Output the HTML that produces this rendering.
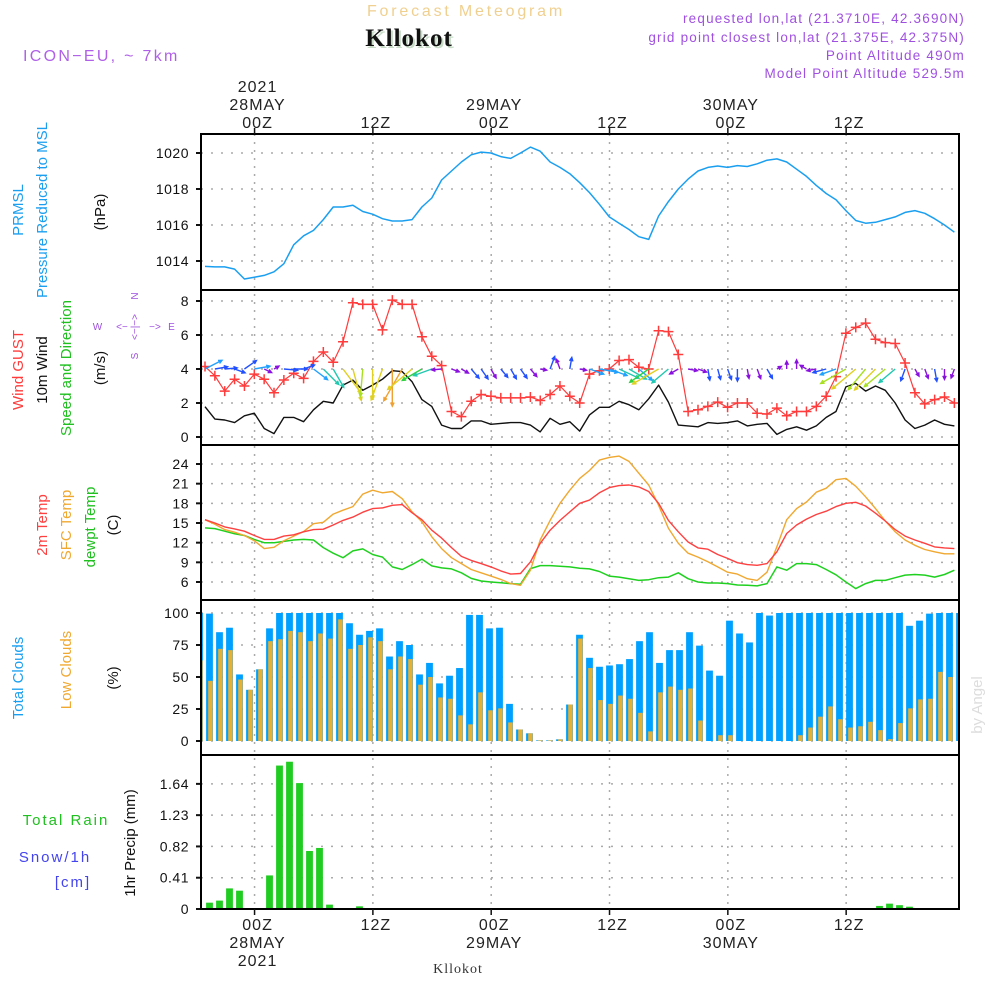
<!DOCTYPE html>
<html><head><meta charset="utf-8"><title>Forecast Meteogram Kllokot</title>
<style>
html,body{margin:0;padding:0;background:#fff;}
svg{display:block;font-family:"Liberation Sans",sans-serif;}
</style></head>
<body>
<svg id="chart" width="1000" height="1000" viewBox="0 0 1000 1000" xmlns="http://www.w3.org/2000/svg">
<defs>
<clipPath id="clipAll"><rect x="201" y="134" width="758" height="775"/></clipPath>
</defs>
<rect x="0" y="0" width="1000" height="1000" fill="#fff"/>
<text x="466" y="16" text-anchor="middle" font-size="16" fill="#f0d090" letter-spacing="2.8">Forecast Meteogram</text>
<text x="411" y="48" text-anchor="middle" font-family="Liberation Serif, serif" font-weight="bold" font-size="25" fill="#c8dcc8" letter-spacing="1">Kllokot</text>
<text x="409" y="46" text-anchor="middle" font-family="Liberation Serif, serif" font-weight="bold" font-size="25" fill="#111" letter-spacing="1">Kllokot</text>
<text x="23" y="61" font-size="16" fill="#b060e8" letter-spacing="2.3">ICON−EU, ~ 7km</text>
<text x="965" y="23" text-anchor="end" font-size="13.5" fill="#a050e0" letter-spacing="1.2">requested lon,lat (21.3710E, 42.3690N)</text>
<text x="965" y="42" text-anchor="end" font-size="13.5" fill="#a050e0" letter-spacing="1.2">grid point closest lon,lat (21.375E, 42.375N)</text>
<text x="965" y="60" text-anchor="end" font-size="13.5" fill="#a050e0" letter-spacing="1.2">Point Altitude 490m</text>
<text x="965" y="78" text-anchor="end" font-size="13.5" fill="#a050e0" letter-spacing="1.2">Model Point Altitude 529.5m</text>
<g id="grid" clip-path="url(#clipAll)"></g>
<g id="marks" clip-path="url(#clipAll)"></g>
<g id="axes"></g>
<g id="labels"></g>
</svg>
<script>
const hours = Array.from({length:77},(_, i)=>i);
const pressure = [1013.7,1013.67,1013.67,1013.55,1013.0,1013.1,1013.2,1013.4,1013.85,1014.9,1015.4,1015.7,1016.3,1017.0,1017.0,1017.1,1016.75,1016.6,1016.35,1016.22,1016.22,1016.3,1017.0,1017.5,1018.5,1019.0,1019.5,1019.9,1020.05,1020.0,1019.8,1019.7,1020.0,1020.33,1020.1,1019.5,1019.2,1018.85,1018.35,1017.8,1017.15,1016.45,1016.1,1015.75,1015.35,1015.2,1016.5,1017.3,1018.0,1018.55,1019.0,1019.2,1019.28,1019.2,1019.3,1019.25,1019.4,1019.6,1019.67,1019.5,1019.1,1018.7,1018.2,1017.75,1017.4,1016.8,1016.25,1016.1,1016.15,1016.3,1016.45,1016.7,1016.8,1016.65,1016.35,1016.0,1015.6];
const gust = [4.15,3.6,2.7,3.4,3.0,3.7,3.4,2.6,3.35,3.75,3.45,4.45,5.0,4.4,5.6,7.9,7.8,7.8,6.3,8.05,7.8,7.8,5.9,4.75,4.2,1.5,1.2,2.1,2.5,2.4,2.3,2.3,2.3,2.35,2.15,2.5,3.0,2.4,2.0,3.7,3.9,4.0,4.5,4.55,4.1,4.0,6.25,6.2,4.85,1.5,1.6,1.8,2.05,1.75,2.0,2.0,1.4,1.35,1.7,1.25,1.5,1.5,1.8,2.4,3.55,6.1,6.45,6.7,5.75,5.55,5.5,4.35,2.6,1.95,2.2,2.35,2.0];
const wind = [1.78,1.05,1.0,0.85,1.25,1.4,0.5,0.2,1.15,1.15,0.9,1.6,2.1,2.0,3.05,3.35,2.75,3.05,3.4,3.9,3.85,3.25,2.2,1.8,0.7,0.5,0.5,0.95,0.95,0.75,0.8,0.85,0.85,0.7,0.3,1.1,0.75,0.9,0.35,1.3,1.75,1.75,2.1,1.9,1.6,2.25,3.05,2.05,0.7,0.65,0.6,0.85,0.8,0.85,0.95,0.65,0.75,0.8,0.15,0.45,0.6,0.4,0.65,1.15,1.5,2.95,3.15,2.7,3.0,2.75,2.0,1.0,0.5,0.7,1.0,0.75,0.65];
const windTo = [63,80,85,110,55,80,115,60,95,90,70,127,135,150,143,165,185,180,200,180,210,230,240,250,265,110,120,140,145,150,140,150,145,140,100,20,340,10,100,110,100,110,115,120,130,235,240,230,240,100,110,170,165,160,180,170,160,150,60,0,0,300,260,255,250,240,230,220,225,230,230,200,150,160,170,180,200];
const temp2m = [15.5,15.0,14.4,14.1,13.75,13.1,12.5,12.5,13.0,13.2,13.65,14.0,14.05,14.7,15.4,15.9,16.65,17.2,17.3,17.7,17.8,16.55,15.5,13.9,12.7,11.25,9.9,9.3,8.8,8.3,7.7,7.2,7.3,9.06,11.9,13.9,15.4,16.7,18.0,18.5,19.6,20.4,20.7,20.8,20.5,19.8,18.0,15.4,13.65,12.1,11.2,11.0,10.2,9.6,8.95,8.65,8.55,8.8,10.6,13.4,14.7,15.6,16.3,16.8,17.5,18.0,18.15,17.6,16.5,15.3,14.0,13.0,12.4,11.9,11.35,11.2,11.1];
const tempSfc = [15.5,14.8,14.0,13.6,13.1,12.3,11.1,11.3,12.3,13.0,13.7,14.9,15.1,16.35,16.95,17.5,19.4,20.0,19.6,19.8,18.7,16.7,15.2,12.9,11.1,9.7,8.8,7.9,7.4,6.9,6.4,5.75,5.5,7.8,12.4,15.4,18.0,20.0,21.8,23.0,24.6,25.0,25.2,24.4,22.6,20.8,17.7,14.2,11.9,10.4,9.8,9.1,8.3,7.5,7.2,6.5,6.25,7.5,11.4,15.5,17.2,18.2,19.7,20.3,21.6,21.8,20.6,19.0,17.2,15.3,13.65,12.4,11.6,10.95,10.6,10.3,10.3];
const dewpt = [14.25,14.15,13.75,13.35,13.1,12.5,12.0,12.0,12.2,12.4,12.5,12.4,11.25,10.4,9.7,10.75,11.05,10.2,9.8,8.3,7.9,8.65,9.5,8.45,8.15,8.0,7.4,6.55,6.15,6.0,5.9,5.75,5.65,8.05,8.5,8.5,8.4,8.3,8.1,8.0,7.6,6.9,6.75,6.5,6.25,6.35,6.65,6.75,7.4,6.5,6.0,5.85,5.85,5.75,5.55,5.5,5.4,5.75,8.3,7.8,8.8,8.8,8.65,7.9,7.1,6.0,5.0,5.75,6.25,6.25,6.65,7.05,7.15,7.05,6.75,7.15,7.8];
const totalClouds = [100,99.5,85,88.5,52,40,56,88,100,100,100,100,100,100,100,92,83,86,88,66,78,75,52,61,45,51,57,98.5,98.5,88,88.5,29,9,6,0.5,0.5,1.3,28.5,83,65,58,59,60,64,78,85,61,71,71,85,74.5,55,51,94,84,77,100,98,100,100,100,100,100,100,100,100,100,100,100,100,100,90,94,99.5,100,100,100];
const lowClouds = [63,47,72,71,48,40,56,78,79.5,86,85,78,84,80,95,72,75,81,78,56,66,64,44,50,34,33,20,13,38,24,25.5,14.5,9,6,0.5,0.5,1.3,28.5,80,57,32,29,35.5,33,22,7.5,38,42.5,40,41,16,0,4.5,4.5,0,0,0,0,0,0,4.5,10.5,19,27,17,10.5,11.5,15,8.5,1.5,14,25.5,32.5,33,54,50,69];
const precip = [0,0.083,0.11,0.27,0.24,0,0,0.44,1.88,1.93,1.65,0.76,0.8,0.057,0,0,0.035,0,0,0,0,0,0,0,0,0,0,0,0,0,0,0,0,0,0,0,0,0,0,0,0,0,0,0,0,0,0,0,0,0,0,0,0,0,0,0,0,0,0,0,0,0,0,0,0,0,0,0,0.04,0.07,0.05,0.03,0,0,0,0.01,0];
const pTicks = [1014,1016,1018,1020];
const wTicks = [0,2,4,6,8];
const tTicks = [6,9,12,15,18,21,24];
const cTicks = [0,25,50,75,100];
const rTicks = ["0","0.41","0.82","1.23","1.64"];
const timeTicks = [6,18,30,42,54,66];
const timeTop = ["00Z","12Z","00Z","12Z","00Z","12Z"];
const dateLabels = ["28MAY","","29MAY","","30MAY",""];

const xl = i => 205 + 9.86*i;
const xb = i => 199.5 + 10*i;
const xt = h => 195.4 + 9.86*h;
const yP = p => 153 + (1020-p)*18;
const yW = v => 437 - v*17;
const yT = t => 582 - (t-6)*6.556;
const yC = c => 741 - c*1.28;
const yR = r => 909 - r*76.3;

const NS="http://www.w3.org/2000/svg";
function mk(tag, parent, attrs){const e=document.createElementNS(NS,tag);for(const k in attrs)e.setAttribute(k,attrs[k]);parent.appendChild(e);return e;}
const grid=document.getElementById('grid'), marks=document.getElementById('marks'), axes=document.getElementById('axes'), labels=document.getElementById('labels');
const panels=[{y0:134,y1:290},{y0:290,y1:445},{y0:445,y1:600},{y0:600,y1:755},{y0:755,y1:909}];

timeTicks.forEach(h=>{
  const g=mk('line',grid,{x1:xt(h),x2:xt(h),y1:134,y2:909,stroke:'#aaa','stroke-width':1.5,'stroke-dasharray':'2,6'});
  
  
});
function hgrid(yv,name){
  const g=mk('line',grid,{x1:201,x2:959,y1:yv,y2:yv,stroke:'#aaa','stroke-width':1.5,'stroke-dasharray':'2,8'});
  
  
}
function ytick(yv,label,name){
  const t=mk('line',axes,{x1:196,x2:201,y1:yv,y2:yv,stroke:'#111','stroke-width':2});
  
  
  const tx=mk('text',labels,{x:189,y:yv+5,'text-anchor':'end','font-size':14,fill:'#111','letter-spacing':'0.5'});
  tx.textContent=label;
  
  
}
pTicks.forEach(v=>{hgrid(yP(v),'pressure-gridline');ytick(yP(v),String(v),'pressure');});
wTicks.forEach(v=>{hgrid(yW(v),'wind-gridline');ytick(yW(v),String(v),'wind');});
tTicks.forEach(v=>{hgrid(yT(v),'temp-gridline');ytick(yT(v),String(v),'temp');});
cTicks.forEach(v=>{hgrid(yC(v),'cloud-gridline');ytick(yC(v),String(v),'cloud');});
rTicks.forEach(v=>{hgrid(yR(parseFloat(v)),'precip-gridline');ytick(yR(parseFloat(v)),v,'precip');});

panels.forEach((p,k)=>{
  const r=mk('rect',axes,{x:201,y:p.y0,width:758,height:p.y1-p.y0,fill:'none',stroke:'#000','stroke-width':2});
  
  
});
timeTicks.forEach(h=>{
  const a=mk('line',axes,{x1:xt(h),x2:xt(h),y1:128,y2:134,stroke:'#111','stroke-width':1.5});
  
  
  const b=mk('line',axes,{x1:xt(h),x2:xt(h),y1:909,y2:915,stroke:'#111','stroke-width':1.5});
  
  
});

function line(vals,xf,yf,color,name,w){
  const pts=vals.map((v,i)=>xf(i).toFixed(1)+','+yf(v).toFixed(1)).join(' ');
  const pl=mk('polyline',marks,{points:pts,fill:'none',stroke:color,'stroke-width':w||1.4,'stroke-linejoin':'round'});
  
  
  return pl;
}
line(pressure,xl,yP,'#1a9ff0','pressure-line',1.5);
line(wind,xl,yW,'#111','wind-speed-line',1.4);
line(gust,xl,yW,'#ff3b3b','wind-gust-line',1.2);
gust.forEach((v,i)=>{
  const x=xl(i), y=yW(v);
  const m=mk('path',marks,{d:`M${x-5},${y}H${x+5}M${x},${y-5}V${y+5}`,stroke:'#ff3b3b','stroke-width':1.5});
  
  
});
function windColor(s){
  if(s<0.8) return '#8a10e0';
  if(s<1.3) return '#2050ff';
  if(s<1.8) return '#20a0ff';
  if(s<2.2) return '#20c8b0';
  if(s<2.7) return '#30d040';
  if(s<3.0) return '#a8e020';
  if(s<3.5) return '#e0d020';
  return '#f0a030';
}
windTo.forEach((d,i)=>{
  const s=wind[i], L=4+8.5*s, a=d*Math.PI/180;
  const x0=xl(i), y0=yW(4);
  const x1=x0+L*Math.sin(a), y1=y0-L*Math.cos(a);
  const h=4, b1=a+Math.PI-0.45, b2=a+Math.PI+0.45;
  const c=windColor(s);
  const ar=mk('path',marks,{d:`M${x0.toFixed(1)},${y0.toFixed(1)}L${x1.toFixed(1)},${y1.toFixed(1)}M${(x1+h*Math.sin(b1)).toFixed(1)},${(y1-h*Math.cos(b1)).toFixed(1)}L${x1.toFixed(1)},${y1.toFixed(1)}L${(x1+h*Math.sin(b2)).toFixed(1)},${(y1-h*Math.cos(b2)).toFixed(1)}`,stroke:c,'stroke-width':1.4,fill:'none'});
  
  
});
line(dewpt,xl,yT,'#20d020','dewpoint-line',1.5);
line(tempSfc,xl,yT,'#f0a830','sfc-temp-line',1.4);
line(temp2m,xl,yT,'#ff4040','temp-2m-line',1.4);
totalClouds.forEach((c,i)=>{
  const r=mk('rect',marks,{x:xb(i)-3.4,y:yC(c),width:6.8,height:yC(0)-yC(c),fill:'#00a0ff'});
  
  
});
lowClouds.forEach((c,i)=>{
  const r=mk('rect',marks,{x:xb(i)-1.3,y:yC(c),width:4.4,height:yC(0)-yC(c),fill:'#e8b030'});
  
  
});
precip.forEach((r,i)=>{
  if(r<=0) return;
  const b=mk('rect',marks,{x:xb(i)-3.4,y:yR(r),width:6.8,height:Math.max(yR(0)-yR(r),0.8),fill:'#20cc20'});
  
  
});
function txt(x,y,s,name,opts){
  const t=mk('text',labels,Object.assign({x:x,y:y,'text-anchor':'middle','font-size':16,fill:'#222','letter-spacing':'1'},opts||{}));
  t.textContent=s;
  
  
  return t;
}
timeTicks.forEach((h,k)=>{
  const x=xt(h)+3;
  txt(x,128,timeTop[k],'top-time-label');
  if(dateLabels[k]) txt(x,110,dateLabels[k],'top-date-label');
  txt(x,930,timeTop[k],'bottom-time-label');
  if(dateLabels[k]) txt(x,948,dateLabels[k],'bottom-date-label');
});
txt(xt(6)+3,92,'2021','top-year-label');
txt(xt(6)+3,966,'2021','bottom-year-label');
txt(458,973,'Kllokot','bottom-location-label',{'font-family':'Liberation Serif, serif','font-size':14,fill:'#333'});
function vlab(x,y,s,color,name,size){
  const t=mk('text',labels,{x:x,y:y,'text-anchor':'middle','font-size':size||15,fill:color,transform:`rotate(-90 ${x} ${y})`});
  t.textContent=s;
  
  
}
vlab(23,210,'PRMSL','#1a9ff0','pressure-title-1');
vlab(47,210,'Pressure Reduced to MSL','#1a9ff0','pressure-title-2');
vlab(105,212,'(hPa)','#111','pressure-unit');
vlab(23,370,'Wind GUST','#ff3b3b','gust-title');
vlab(47,370,'10m Wind','#111','wind-title');
vlab(71,368,'Speed and Direction','#20c020','wind-direction-title');
vlab(105,368,'(m/s)','#111','wind-unit');
vlab(47,525,'2m Temp','#ff4040','temp-2m-title');
vlab(71,525,'SFC Temp','#f0a830','sfc-temp-title');
vlab(95,527,'dewpt Temp','#20c020','dewpt-title');
vlab(118,525,'(C)','#111','temp-unit');
vlab(23,678,'Total Clouds','#1a9ff0','total-cloud-title');
vlab(71,670,'Low Clouds','#f0a830','low-cloud-title');
vlab(118,678,'(%)','#111','cloud-unit');
vlab(135,843,'1hr Precip (mm)','#111','precip-unit');
[['N',138,296],['<−|−>',138,327],['S',138,356]].forEach(a=>{const t=mk('text',labels,{x:a[1],y:a[2],'text-anchor':'middle','font-size':10,fill:'#a050e0','letter-spacing':'0',transform:`rotate(-90 ${a[1]} ${a[2]})`});t.textContent=a[0];});
txt(98,330,'W','compass-west',{'font-size':10,fill:'#a050e0'});
txt(172,330,'E','compass-east',{'font-size':10,fill:'#a050e0'});
txt(122,330,'<−','compass-left',{'font-size':10,fill:'#a050e0','letter-spacing':'0'});
txt(155,330,'−>','compass-right',{'font-size':10,fill:'#a050e0','letter-spacing':'0'});
txt(66,825,'Total   Rain','rain-legend',{'font-size':15,fill:'#20c020','letter-spacing':'2'});
txt(55,862,'Snow/1h','snow-legend',{'font-size':15,fill:'#4444ee','letter-spacing':'2'});
txt(73,887,'[cm]','snow-unit',{'font-size':15,fill:'#4444ee','letter-spacing':'2'});
vlab(982,705,'by Angel','#ddd','watermark',15);
</script>
</body></html>
